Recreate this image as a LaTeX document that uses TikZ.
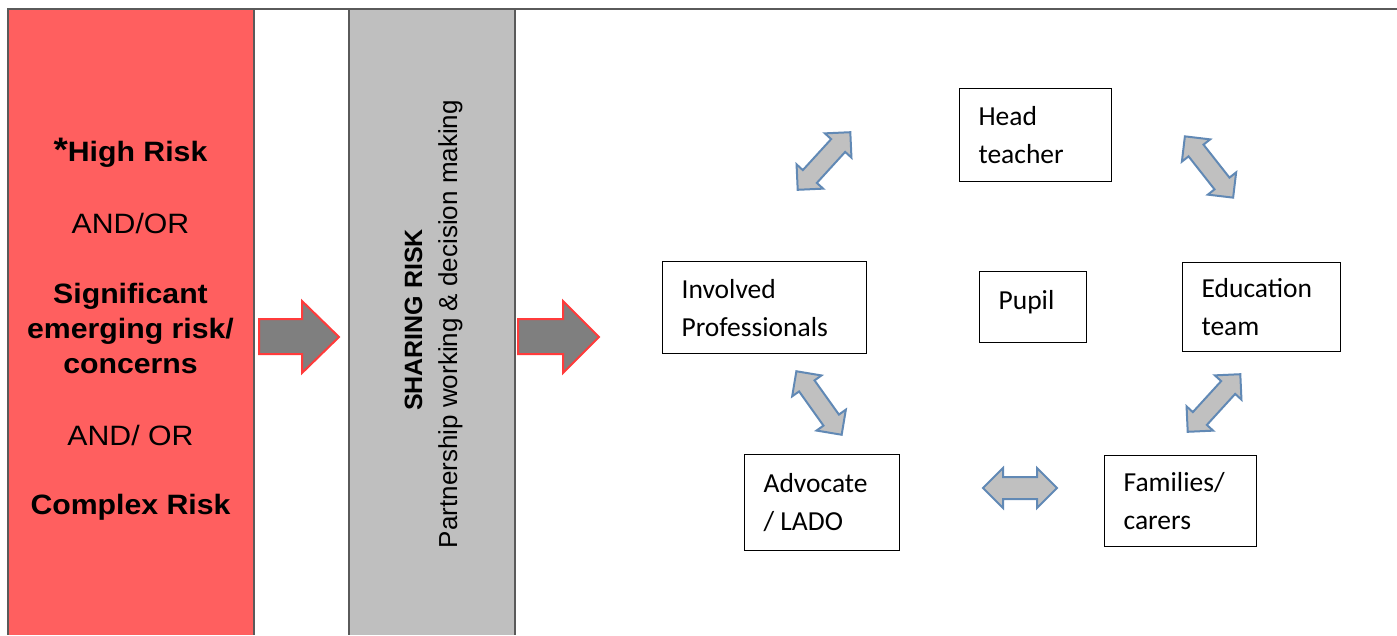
\documentclass[tikz,border=0pt]{standalone}
\usepackage{fontspec}
\setmainfont{Liberation Sans}
\newfontfamily\widesans{Liberation Sans}[FakeStretch=1.08]
\newfontfamily\boxfont{Carlito}
\usetikzlibrary{shapes.arrows}

\definecolor{riskred}{HTML}{FF5F5F}
\definecolor{sharegray}{HTML}{BFBFBF}
\definecolor{rulegray}{HTML}{5A5A5A}
\definecolor{flowfill}{HTML}{7F7F7F}
\definecolor{flowedge}{HTML}{FF3B3B}
\definecolor{linkfill}{HTML}{C0C0C0}
\definecolor{linkedge}{HTML}{6189B5}

\begin{document}
\begin{tikzpicture}[x=1pt,y=-1pt,
  rulestyle/.style={draw=rulegray, line width=2pt},
  riskline/.style={anchor=base, inner sep=0pt, font=\widesans\fontsize{28}{34}\selectfont},
  riskbold/.style={riskline, font=\widesans\bfseries\fontsize{28}{34}\selectfont},
  member/.style={draw=black, line width=1.2pt, anchor=north west, inner xsep=19pt,
    inner ysep=0pt, align=left, font=\boxfont\fontsize{27.5}{38}\selectfont},
  link/.style={double arrow, draw=linkedge, fill=linkfill, line width=2pt,
    inner xsep=0pt, inner ysep=8.5pt, double arrow head extend=8.5pt},
  flow/.style={draw=flowedge, fill=flowfill, line width=2pt, line join=miter}
]
\useasboundingbox (0,0) rectangle (1397,635);

% columns
\fill[riskred] (8,9) rectangle (253.5,635);
\fill[sharegray] (349,9) rectangle (515,635);
\draw[rulestyle] (7,9) -- (1397,9);
\draw[rulestyle] (8,9) -- (8,635);
\draw[rulestyle] (253.5,9) -- (253.5,635);
\draw[rulestyle] (349,9) -- (349,635);
\draw[rulestyle] (515,9) -- (515,635);

% risk levels
\node[riskbold] (high) at (130.5,161) {{\fontsize{34}{34}\selectfont*}High Risk};
\node[riskline] (or1) at (130.5,233) {AND/OR};
\node[riskbold] (sig1) at (130.5,303) {Significant};
\node[riskbold] (sig2) at (130.5,338) {emerging risk/};
\node[riskbold] (sig3) at (130.5,373) {concerns};
\node[riskline] (or2) at (130.5,445) {AND/ OR};
\node[riskbold] (complex) at (130.5,514) {Complex Risk};

% sharing risk
\node[rotate=90, anchor=base, inner sep=0pt, font=\bfseries\fontsize{25}{30}\selectfont]
  (share) at (422,320) {SHARING RISK};
\node[rotate=90, anchor=base, inner sep=0pt, font=\fontsize{26}{31}\selectfont]
  (partner) at (457,324) {Partnership working \& decision making};

% flow arrows
\draw[flow] (259,319) -- (302,319) -- (302,301) -- (339,337) -- (302,373)
  -- (302,354) -- (259,354) -- cycle;
\draw[flow] (518,319) -- (563,319) -- (563,301) -- (599,337) -- (563,373)
  -- (563,354) -- (518,354) -- cycle;

% people around the pupil
\node[member, text width=114pt, minimum height=93pt] (head) at (959,88) {Head\\teacher};
\node[member, text width=166pt, minimum height=92pt] (inv) at (662,261) {Involved\\Professionals};
\node[member, text width=69pt, minimum height=71pt, text depth=15pt] (pupil) at (979,271) {Pupil};
\node[member, text width=120pt, minimum height=89pt] (edu) at (1182,262) {Education\\team};
\node[member, text width=117pt, minimum height=96pt] (adv) at (744,454) {Advocate\\/\hspace{-3pt} LADO};
\node[member, text width=114pt, minimum height=91pt] (fam) at (1104,455) {Families/\\carers};

% two-way links
\node[link, minimum height=78pt, rotate=47.6] (l1) at (824,161) {};
\node[link, minimum height=78pt, rotate=-51.8] (l2) at (1209,167) {};
\node[link, minimum height=78pt, rotate=47.6] (l3) at (1214,403) {};
\node[link, minimum height=78pt, rotate=-54.5] (l4) at (819,403) {};
\node[link, minimum height=74pt, inner ysep=10pt, double arrow head extend=9pt] (l5) at (1020,488) {};
\end{tikzpicture}
\end{document}
